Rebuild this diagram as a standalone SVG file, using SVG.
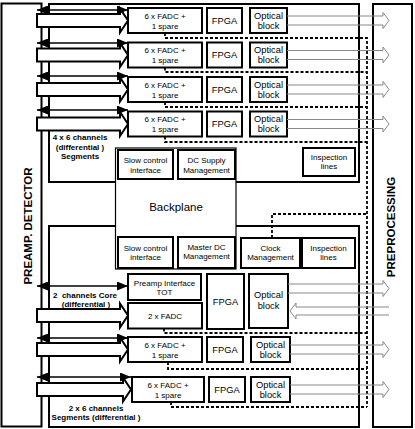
<svg xmlns="http://www.w3.org/2000/svg" width="415" height="429" viewBox="0 0 415 429">
<style>
.frame{fill:#fff;stroke:#000;stroke-width:2}
.box{fill:#fff;stroke:#000;stroke-width:2}
.thin{fill:#fff;stroke:#000;stroke-width:1.2}
.dash{fill:none;stroke:#000;stroke-width:1.8;stroke-dasharray:3,2}
.out{fill:none;stroke:#888;stroke-width:1}
.blk{fill:#fff;stroke:#000;stroke-width:2}
.dbl{stroke:#000;stroke-width:1.5;marker-start:url(#h);marker-end:url(#h)}
text{font-family:"Liberation Sans",Arial,sans-serif;fill:#000;text-anchor:middle}
.s{font-size:8px}
.m{font-size:9.3px}
.b{font-size:8px;font-weight:bold}
.t{font-size:11.5px;font-weight:bold}
</style>
<defs>
<marker id="h" markerWidth="11" markerHeight="9" refX="11" refY="4.5" orient="auto-start-reverse" markerUnits="userSpaceOnUse"><path d="M0,0 L11,4.5 L0,9 Z"/></marker>
</defs>

<g id="preamp-detector"><rect class="frame" x="1.5" y="3.5" width="40" height="423"/><text class="t" transform="translate(31.5,226) rotate(-90)">PREAMP. DETECTOR</text></g>
<g id="preprocessing"><rect class="frame" x="373" y="4" width="39" height="423"/><text class="t" transform="translate(395,227) rotate(-90)">PREPROCESSING</text></g>
<g id="upper-board"><rect class="frame" x="49" y="4" width="310" height="178"/></g>
<g id="lower-board"><rect class="frame" x="49" y="226" width="310" height="201"/></g>

<g id="backplane"><rect class="thin" x="115.5" y="148" width="120.5" height="121"/><text x="176" y="211" style="font-size:11.5px">Backplane</text></g>
<g id="slow-control-1"><rect class="box" x="118" y="150" width="55" height="29"/><text class="s" x="145.5" y="162.9">Slow control</text><text class="s" x="145.5" y="172.9">interface</text></g>
<g id="dc-supply"><rect class="box" x="178" y="150" width="57" height="29"/><text class="s" x="206.5" y="162.9">DC Supply</text><text class="s" x="206.5" y="172.9">Management</text></g>
<g id="inspection-1"><rect class="box" x="303" y="148" width="52" height="28"/><text class="s" x="329" y="159.9">Inspection</text><text class="s" x="329" y="168.9">lines</text></g>
<g id="slow-control-2"><rect class="box" x="118" y="237" width="55" height="31"/><text class="s" x="145.5" y="250.9">Slow control</text><text class="s" x="145.5" y="259.9">interface</text></g>
<g id="master-dc"><rect class="box" x="178" y="237" width="57" height="31"/><text class="s" x="206.5" y="249.9">Master DC</text><text class="s" x="206.5" y="259.4">Management</text></g>
<g id="clock"><rect class="box" x="241" y="238" width="59" height="30"/><text class="s" x="270.5" y="250.9">Clock</text><text class="s" x="270.5" y="259.9">Management</text></g>
<g id="inspection-2"><rect class="box" x="302" y="238" width="53" height="30"/><text class="s" x="328.5" y="250.9">Inspection</text><text class="s" x="328.5" y="259.9">lines</text></g>

<g id="fadc-1"><rect class="box" x="128" y="8" width="74" height="25"/><text class="s" x="165" y="18.9">6 x FADC +</text><text class="s" x="165" y="28.9">1 spare</text></g>
<g id="fpga-1"><rect class="box" x="207" y="8" width="35" height="25"/><text class="m" x="224.5" y="23.8">FPGA</text></g>
<g id="optical-1"><rect class="box" x="250" y="8" width="37" height="25"/><text class="m" x="268.5" y="18.8">Optical</text><text class="m" x="268.5" y="28.8">block</text></g>

<g id="fadc-2"><rect class="box" x="128" y="42.5" width="74" height="25"/><text class="s" x="165" y="53.4">6 x FADC +</text><text class="s" x="165" y="63.4">1 spare</text></g>
<g id="fpga-2"><rect class="box" x="207" y="42.5" width="35" height="25"/><text class="m" x="224.5" y="58.3">FPGA</text></g>
<g id="optical-2"><rect class="box" x="250" y="42.5" width="37" height="25"/><text class="m" x="268.5" y="53.3">Optical</text><text class="m" x="268.5" y="63.3">block</text></g>

<g id="fadc-3"><rect class="box" x="128" y="77" width="74" height="25"/><text class="s" x="165" y="87.9">6 x FADC +</text><text class="s" x="165" y="97.9">1 spare</text></g>
<g id="fpga-3"><rect class="box" x="207" y="77" width="35" height="25"/><text class="m" x="224.5" y="92.8">FPGA</text></g>
<g id="optical-3"><rect class="box" x="250" y="77" width="37" height="25"/><text class="m" x="268.5" y="87.8">Optical</text><text class="m" x="268.5" y="97.8">block</text></g>

<g id="fadc-4"><rect class="box" x="128" y="111.5" width="74" height="25"/><text class="s" x="165" y="122.4">6 x FADC +</text><text class="s" x="165" y="132.4">1 spare</text></g>
<g id="fpga-4"><rect class="box" x="207" y="111.5" width="35" height="25"/><text class="m" x="224.5" y="127.3">FPGA</text></g>
<g id="optical-4"><rect class="box" x="250" y="111.5" width="37" height="25"/><text class="m" x="268.5" y="122.3">Optical</text><text class="m" x="268.5" y="132.3">block</text></g>

<g id="preamp-tot"><rect class="box" x="128" y="274" width="73" height="26"/><text class="s" x="164.5" y="285.9">Preamp Interface</text><text class="s" x="164.5" y="294.9">TOT</text></g>
<g id="fadc-core"><rect class="box" x="128" y="303" width="74" height="25.5"/><text class="s" x="165" y="318.7">2 x FADC</text></g>
<g id="fpga-core"><rect class="box" x="207" y="274" width="37" height="55"/><text class="m" x="225.5" y="305">FPGA</text></g>
<g id="optical-core"><rect class="box" x="249" y="274" width="39" height="54"/><text class="m" x="268.5" y="298">Optical</text><text class="m" x="268.5" y="309">block</text></g>

<g id="fadc-5"><rect class="box" x="128" y="337" width="74" height="25"/><text class="s" x="165" y="347.9">6 x FADC +</text><text class="s" x="165" y="357.9">1 spare</text></g>
<g id="fpga-5"><rect class="box" x="207" y="337" width="36" height="25"/><text class="m" x="225" y="352.8">FPGA</text></g>
<g id="optical-5"><rect class="box" x="251" y="337" width="39" height="25"/><text class="m" x="270.5" y="347.8">Optical</text><text class="m" x="270.5" y="357.8">block</text></g>

<g id="fadc-6"><rect class="box" x="132" y="377" width="72" height="25"/><text class="s" x="168" y="387.9">6 x FADC +</text><text class="s" x="168" y="397.9">1 spare</text></g>
<g id="fpga-6"><rect class="box" x="209" y="377" width="36" height="25"/><text class="m" x="227" y="392.8">FPGA</text></g>
<g id="optical-6"><rect class="box" x="251" y="377" width="39" height="25"/><text class="m" x="270.5" y="387.8">Optical</text><text class="m" x="270.5" y="397.8">block</text></g>

<g id="labels">
<text class="b" x="80" y="140">4 x 6 channels</text>
<text class="b" x="80" y="149.5">(differential )</text>
<text class="b" x="80" y="159">Segments</text>
<text class="b" x="85" y="298" xml:space="preserve">2  channels Core</text>
<text class="b" x="86" y="307">(differential )</text>
<text class="b" x="96" y="411">2 x 6 channels</text>
<text class="b" x="96" y="420">Segments (differential )</text>
</g>

<g id="connectors">
<path class="dash" d="M165,33 V38 H367 V407 M165,67.5 V72 H367 M165,102 V107 H367 M165,136.5 V142 H367 M164,328.5 V333 H367 M168,362 V369 H367 M171,402 V407 H367 M272,238 V214 H367"/>
<path class="blk" d="M37,14 H120 V8.5 L128,20.5 L120,32.5 V27 H37 Z"/>
<path class="blk" d="M37,48.5 H120 V43 L128,55 L120,67 V61.5 H37 Z"/>
<path class="blk" d="M37,83 H120 V77.5 L128,89.5 L120,101.5 V96 H37 Z"/>
<path class="blk" d="M37,117.5 H120 V112 L128,124 L120,136 V130.5 H37 Z"/>
<path class="blk" d="M37,309 H120 V303.5 L128,315.5 L120,327.5 V322 H37 Z"/>
<path class="blk" d="M37,343 H120 V337.5 L128,349.5 L120,361.5 V356 H37 Z"/>
<path class="blk" d="M37,383 H123 V377.5 L131,389.5 L123,401.5 V396 H37 Z"/>
<line class="dbl" x1="37" y1="10" x2="128" y2="10"/>
<line class="dbl" x1="37" y1="43" x2="128" y2="43"/>
<line class="dbl" x1="37" y1="76" x2="128" y2="76"/>
<line class="dbl" x1="37" y1="110" x2="128" y2="110"/>
<line class="dbl" x1="37" y1="286" x2="128" y2="286"/>
<line class="dbl" x1="37" y1="338" x2="128" y2="338"/>
<line class="dbl" x1="37" y1="377" x2="131" y2="377"/>
<path class="out" d="M287,16 H383 V12.5 L389,20.5 L383,28.5 V25 H287"/>
<path class="out" d="M287,50.5 H383 V47 L389,55 L383,63 V59.5 H287"/>
<path class="out" d="M287,85 H383 V81.5 L389,89.5 L383,97.5 V94 H287"/>
<path class="out" d="M287,119.5 H383 V116 L389,124 L383,132 V128.5 H287"/>
<path class="out" d="M288,284 H383 V280.5 L389,288.5 L383,296.5 V293 H288"/>
<path class="out" d="M389,307 H296 V303 L290,311 L296,319 V315 H389"/>
<path class="out" d="M290,345 H383 V341.5 L389,349.5 L383,357.5 V354 H290"/>
<path class="out" d="M290,385 H383 V381.5 L389,389.5 L383,397.5 V394 H290"/>
</g>
</svg>
